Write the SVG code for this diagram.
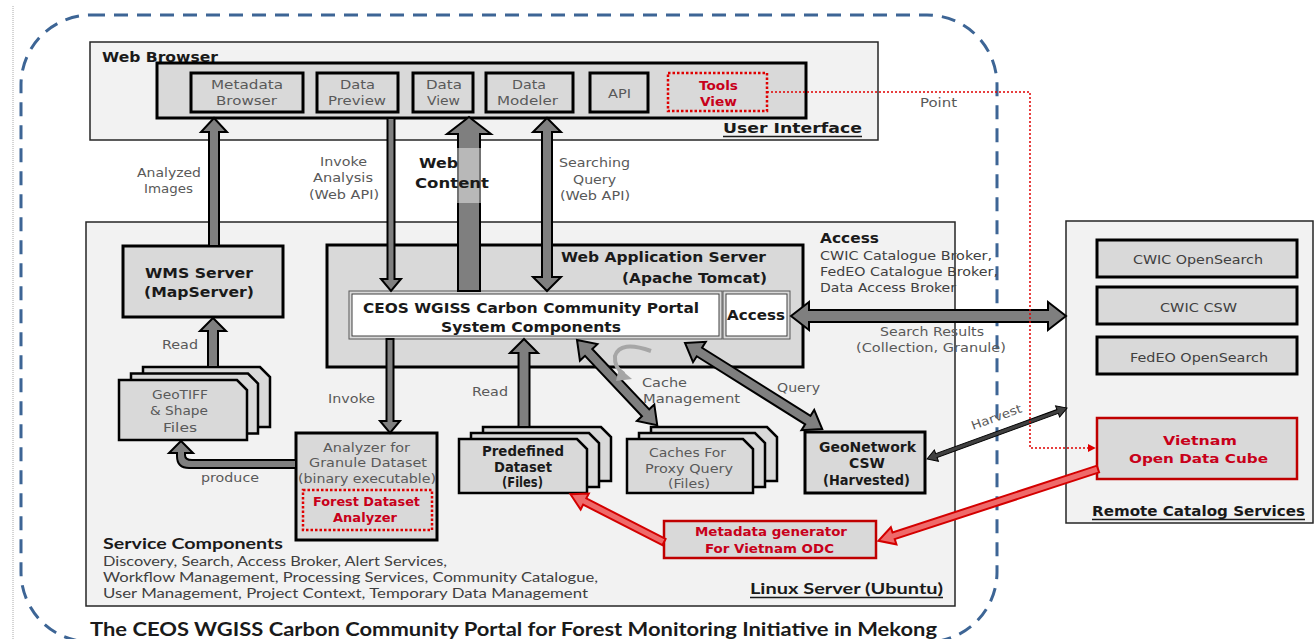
<svg xmlns="http://www.w3.org/2000/svg" width="1315" height="639" viewBox="0 0 1315 639">
<style>
text{font-family:"DejaVu Sans",Verdana,sans-serif}
.t{font-size:12px;fill:#595959}
.td{font-size:13px;fill:#404040}
.b{font-weight:bold;fill:#1a1a1a;font-size:14px}
.r{font-weight:bold;fill:#c8001a;font-size:12.5px}
.cal{font-family:Lato,"Liberation Sans",sans-serif}
.panel{fill:#f2f2f2;stroke:#262626;stroke-width:1.5}
.box{fill:#d9d9d9;stroke:#000;stroke-width:3}
.rbox{fill:#d9d9d9;stroke:#c00000;stroke-width:2.5}
.dot{fill:#d9d9d9;stroke:#e00000;stroke-width:2.5;stroke-dasharray:2.5 2}
.doc{fill:#d9d9d9;stroke:#000;stroke-width:2.5}
.arr{fill:#7f7f7f;stroke:#000;stroke-width:2}
.rarr{fill:#ef6a6a;stroke:#d40000;stroke-width:2}
.ul{stroke:#1a1a1a;stroke-width:1.5}
</style>
<defs>
<marker id="rhead" viewBox="0 0 10 10" refX="9" refY="5" markerWidth="8" markerHeight="8" orient="auto" markerUnits="userSpaceOnUse"><path d="M0,0 L10,5 L0,10 z" fill="#e00000"/></marker>
</defs>
<rect width="1315" height="639" fill="#fff"/>
<line x1="13" y1="6" x2="13" y2="639" stroke="#aaa" stroke-width="1" stroke-dasharray="1 1"/>
<rect x="21" y="15" width="976" height="627" rx="70" fill="none" stroke="#3d6595" stroke-width="3" stroke-dasharray="14 9"/>

<g id="web-browser">
<rect class="panel" x="90" y="42" width="788" height="98"/>
<text class="b" x="102" y="62" textLength="116" lengthAdjust="spacingAndGlyphs">Web Browser</text>
<rect x="157" y="63" width="649" height="55" fill="#d9d9d9" stroke="#000" stroke-width="3"/>
<text class="b" x="723" y="133" font-size="16" textLength="139" lengthAdjust="spacingAndGlyphs">User Interface</text>
<line class="ul" x1="723" y1="136.5" x2="862" y2="136.5"/>
</g>
<g id="metadata-browser"><rect class="box" x="191" y="73" width="112" height="39"/><text class="t" x="211" y="89" textLength="72" lengthAdjust="spacingAndGlyphs">Metadata</text><text class="t" x="216" y="105" textLength="61" lengthAdjust="spacingAndGlyphs">Browser</text></g>
<g id="data-preview"><rect class="box" x="317" y="73" width="81" height="39"/><text class="t" x="340" y="89" textLength="35" lengthAdjust="spacingAndGlyphs">Data</text><text class="t" x="328" y="105" textLength="58" lengthAdjust="spacingAndGlyphs">Preview</text></g>
<g id="data-view"><rect class="box" x="413" y="73" width="60" height="39"/><text class="t" x="426" y="89" textLength="36" lengthAdjust="spacingAndGlyphs">Data</text><text class="t" x="427" y="105" textLength="33" lengthAdjust="spacingAndGlyphs">View</text></g>
<g id="data-modeler"><rect class="box" x="486" y="73" width="87" height="39"/><text class="t" x="512" y="89" textLength="34" lengthAdjust="spacingAndGlyphs">Data</text><text class="t" x="497" y="105" textLength="61" lengthAdjust="spacingAndGlyphs">Modeler</text></g>
<g id="api"><rect class="box" x="590" y="73" width="58" height="39"/><text class="t" x="608" y="98" textLength="23" lengthAdjust="spacingAndGlyphs">API</text></g>
<g id="tools-view"><rect class="dot" x="668" y="73" width="99" height="38"/><text class="r" x="699" y="90" textLength="39" lengthAdjust="spacingAndGlyphs">Tools</text><text class="r" x="700" y="106" textLength="37" lengthAdjust="spacingAndGlyphs">View</text></g>

<g id="linux-server">
<rect class="panel" x="86" y="222" width="869" height="384"/>
<text class="cal" x="750" y="594" font-size="16" font-weight="bold" fill="#1a1a1a" textLength="193" lengthAdjust="spacingAndGlyphs">Linux Server (Ubuntu)</text>
<line class="ul" x1="750" y1="597.5" x2="943" y2="597.5"/>
</g>
<g id="service-components">
<text class="cal" x="103" y="549" font-size="15" font-weight="bold" fill="#1a1a1a" textLength="180" lengthAdjust="spacingAndGlyphs">Service Components</text>
<text class="cal" x="103" y="566" font-size="13.5" fill="#404040" textLength="344" lengthAdjust="spacingAndGlyphs">Discovery, Search, Access Broker, Alert Services,</text>
<text class="cal" x="103" y="582" font-size="13.5" fill="#404040" textLength="495" lengthAdjust="spacingAndGlyphs">Workflow Management, Processing Services, Community Catalogue,</text>
<text class="cal" x="103" y="598" font-size="13.5" fill="#404040" textLength="485" lengthAdjust="spacingAndGlyphs">User Management, Project Context, Temporary Data Management</text>
</g>
<g id="wms-server"><rect class="box" x="123" y="246" width="160" height="71"/><text class="b" x="145" y="278" font-size="15" fill="#262626" textLength="108" lengthAdjust="spacingAndGlyphs">WMS Server</text><text class="b" x="144" y="297" font-size="15" fill="#262626" textLength="110" lengthAdjust="spacingAndGlyphs">(MapServer)</text></g>
<g id="web-application-server"><rect class="box" x="327" y="245" width="476" height="122"/><text class="b" x="561" y="262" font-size="15" textLength="205" lengthAdjust="spacingAndGlyphs">Web Application Server</text><text class="b" x="622" y="283" font-size="15" textLength="145" lengthAdjust="spacingAndGlyphs">(Apache Tomcat)</text></g>
<g id="ceos-portal"><rect x="349" y="291" width="373" height="48" fill="#d9d9d9" stroke="#595959" stroke-width="1"/><rect x="352" y="294" width="367" height="42" fill="#fff" stroke="#404040" stroke-width="1"/><text class="b" x="363" y="313" font-size="15" textLength="336" lengthAdjust="spacingAndGlyphs">CEOS WGISS Carbon Community Portal</text><text class="b" x="441" y="332" font-size="15" textLength="180" lengthAdjust="spacingAndGlyphs">System Components</text></g>
<g id="access-box"><rect x="723" y="291" width="67" height="48" fill="#d9d9d9" stroke="#595959" stroke-width="1"/><rect x="726" y="294" width="61" height="42" fill="#fff" stroke="#404040" stroke-width="1"/><text class="b" x="727" y="320" font-size="14" textLength="58" lengthAdjust="spacingAndGlyphs">Access</text></g>
<g id="access-label"><text class="b" x="820" y="243" font-size="15" textLength="59" lengthAdjust="spacingAndGlyphs">Access</text><text class="td" x="820" y="260" textLength="172" lengthAdjust="spacingAndGlyphs">CWIC Catalogue Broker,</text><text class="td" x="820" y="276" textLength="178" lengthAdjust="spacingAndGlyphs">FedEO Catalogue Broker,</text><text class="td" x="820" y="292" textLength="136" lengthAdjust="spacingAndGlyphs">Data Access Broker</text></g>
<g id="geotiff-files">
<path class="doc" d="M143,367 H260 L270,377 V427 H143 Z"/>
<path class="doc" d="M131,373.5 H248 L258,383.5 V433.5 H131 Z"/>
<path class="doc" d="M119,380 H237 L247,390 V440 H119 Z"/>
<text class="t" x="152" y="399" textLength="56" lengthAdjust="spacingAndGlyphs">GeoTIFF</text><text class="t" x="150" y="415" textLength="58" lengthAdjust="spacingAndGlyphs">&amp; Shape</text><text class="t" x="163" y="432" textLength="34" lengthAdjust="spacingAndGlyphs">Files</text>
</g>
<g id="analyzer"><rect class="box" x="296" y="433" width="141" height="107"/><text class="t" x="323" y="452" textLength="87" lengthAdjust="spacingAndGlyphs">Analyzer for</text><text class="t" x="309" y="467" textLength="118" lengthAdjust="spacingAndGlyphs">Granule Dataset</text><text class="t" x="298" y="483" textLength="138" lengthAdjust="spacingAndGlyphs">(binary executable)</text>
<rect class="dot" x="303" y="490" width="129" height="40"/><text class="r" x="313" y="506" textLength="107" lengthAdjust="spacingAndGlyphs">Forest Dataset</text><text class="r" x="333" y="522" textLength="64" lengthAdjust="spacingAndGlyphs">Analyzer</text></g>
<g id="predefined-dataset">
<path class="doc" d="M483,427 H601 L611,437 V481 H483 Z"/>
<path class="doc" d="M471,433 H589 L599,443 V487 H471 Z"/>
<path class="doc" d="M459,439 H577 L587,449 V493 H459 Z"/>
<text class="b" x="482" y="456" font-size="12.5" fill="#262626" textLength="82" lengthAdjust="spacingAndGlyphs">Predefined</text><text class="b" x="494" y="472" font-size="12.5" fill="#262626" textLength="58" lengthAdjust="spacingAndGlyphs">Dataset</text><text class="b" x="502" y="487" font-size="12.5" fill="#262626" textLength="41" lengthAdjust="spacingAndGlyphs">(Files)</text>
</g>
<g id="caches">
<path class="doc" d="M651,427 H767 L777,437 V481 H651 Z"/>
<path class="doc" d="M639,433 H755 L765,443 V487 H639 Z"/>
<path class="doc" d="M627,439 H743 L753,449 V493 H627 Z"/>
<text class="t" x="649" y="457" textLength="77" lengthAdjust="spacingAndGlyphs">Caches For</text><text class="t" x="645" y="473" textLength="88" lengthAdjust="spacingAndGlyphs">Proxy Query</text><text class="t" x="668" y="488" textLength="42" lengthAdjust="spacingAndGlyphs">(Files)</text>
</g>
<g id="geonetwork"><rect class="box" x="805" y="432" width="120" height="61"/><text class="b" x="819" y="452" font-size="12.5" fill="#262626" textLength="97" lengthAdjust="spacingAndGlyphs">GeoNetwork</text><text class="b" x="849" y="468" font-size="12.5" fill="#262626" textLength="36" lengthAdjust="spacingAndGlyphs">CSW</text><text class="b" x="823" y="485" font-size="12.5" fill="#262626" textLength="87" lengthAdjust="spacingAndGlyphs">(Harvested)</text></g>
<g id="metadata-generator"><rect class="rbox" x="664" y="521" width="212" height="37"/><text class="r" x="695" y="536" textLength="152" lengthAdjust="spacingAndGlyphs">Metadata generator</text><text class="r" x="705" y="553" textLength="129" lengthAdjust="spacingAndGlyphs">For Vietnam ODC</text></g>

<g id="remote-catalog-services">
<rect class="panel" x="1066" y="221" width="247" height="302"/>
<text class="b" x="1092" y="516" font-size="15" textLength="213" lengthAdjust="spacingAndGlyphs">Remote Catalog Services</text>
<line class="ul" x1="1092" y1="519.5" x2="1305" y2="519.5"/>
</g>
<g id="cwic-opensearch"><rect class="box" x="1097" y="240" width="200" height="37"/><text class="td" x="1133" y="264" textLength="130" lengthAdjust="spacingAndGlyphs">CWIC OpenSearch</text></g>
<g id="cwic-csw"><rect class="box" x="1097" y="287" width="200" height="37"/><text class="td" x="1160" y="312" textLength="77" lengthAdjust="spacingAndGlyphs">CWIC CSW</text></g>
<g id="fedeo-opensearch"><rect class="box" x="1097" y="337" width="200" height="37"/><text class="td" x="1130" y="362" textLength="138" lengthAdjust="spacingAndGlyphs">FedEO OpenSearch</text></g>
<g id="vietnam-odc"><rect class="rbox" x="1097" y="418" width="200" height="61" stroke-width="3"/><text class="r" x="1163" y="445" font-size="15" textLength="74" lengthAdjust="spacingAndGlyphs">Vietnam</text><text class="r" x="1129" y="463" font-size="15" textLength="139" lengthAdjust="spacingAndGlyphs">Open Data Cube</text></g>

<g id="connectors">
<polygon class="arr" points="209,246 209,132 201,132 214,118 227,132 219,132 219,246"/>
<polygon class="arr" points="208,367 208,331 200,331 213,318 226,331 218,331 218,367"/>
<polygon class="arr" points="387.5,118 394.5,118 394.5,279 401,279 391,291 381,279 387.5,279"/>
<polygon class="arr" points="458,291 458,134 447,134 469,117 491,134 480,134 480,291"/>
<rect x="456" y="148" width="26" height="55" fill="#fff" opacity="0.45"/>
<polygon class="arr" points="547,118 561,132 552,132 552,277 561,277 547,291 533,277 542,277 542,132 533,132"/>
<polygon class="arr" points="386.5,339 393.5,339 393.5,421 400,421 390,433 380,421 386.5,421"/>
<polygon class="arr" points="518.5,427 518.5,353 510,353 524,339 538,353 529.5,353 529.5,427"/>
<polygon class="arr" points="791,316 809,302 809,310 1048,310 1048,302 1066,316 1048,330 1048,322 809,322 809,330"/>
<polygon class="arr" transform="translate(577,340) rotate(46.7)" points="0,0 17,-12 17,-5 100,-5 100,-12 117,0 100,12 100,5 17,5 17,12"/>
<polygon class="arr" transform="translate(685,343) rotate(32.1)" points="0,0 17,-12 17,-5 145,-5 145,-12 162,0 145,12 145,5 17,5 17,12"/>
<polygon transform="translate(927,459) rotate(-20)" points="0,0 10,-6 10,-2 139,-2 139,-6 149,0 139,6 139,2 10,2 10,6" fill="#404040" stroke="#000" stroke-width="1"/>
<path class="arr" d="M296,460 L192,460 Q185,460 185,455 L185,453 L193,453 L181,441 L169,453 L177,453 L177,456 Q177,468 189,468 L296,468 Z"/>
<path d="M651,351 Q620,340 615,356 Q614,368 624,374" fill="none" stroke="#a6a6a6" stroke-width="4"/>
<polygon points="619,368 632,379 616,381" fill="#a6a6a6"/>
<polygon class="rarr" transform="translate(1098,469) rotate(161.9)" points="0,-3.5 215,-3.5 215,-9 231,0 215,9 215,3.5 0,3.5"/>
<polygon class="rarr" transform="translate(664,542) rotate(-152.95)" points="0,-3.5 89,-3.5 89,-9 105,0 89,9 89,3.5 0,3.5"/>
<path d="M767,92 H1030 V448 H1095" fill="none" stroke="#e00000" stroke-width="1.5" stroke-dasharray="2 2" marker-end="url(#rhead)"/>
<text class="t" x="137" y="177" textLength="64" lengthAdjust="spacingAndGlyphs">Analyzed</text>
<text class="t" x="144" y="193" textLength="49" lengthAdjust="spacingAndGlyphs">Images</text>
<text class="t" x="320" y="166" textLength="47" lengthAdjust="spacingAndGlyphs">Invoke</text>
<text class="t" x="313" y="182" textLength="60" lengthAdjust="spacingAndGlyphs">Analysis</text>
<text class="t" x="309" y="199" textLength="70" lengthAdjust="spacingAndGlyphs">(Web API)</text>
<text class="b" x="419" y="168" font-size="15" textLength="39" lengthAdjust="spacingAndGlyphs">Web</text>
<text class="b" x="415" y="188" font-size="15" textLength="74" lengthAdjust="spacingAndGlyphs">Content</text>
<text class="t" x="559" y="167" textLength="71" lengthAdjust="spacingAndGlyphs">Searching</text>
<text class="t" x="573" y="184" textLength="43" lengthAdjust="spacingAndGlyphs">Query</text>
<text class="t" x="560" y="200" textLength="70" lengthAdjust="spacingAndGlyphs">(Web API)</text>
<text class="t" x="920" y="107" textLength="37" lengthAdjust="spacingAndGlyphs">Point</text>
<text class="t" x="880" y="336" textLength="104" lengthAdjust="spacingAndGlyphs">Search Results</text>
<text class="t" x="856" y="352" textLength="150" lengthAdjust="spacingAndGlyphs">(Collection, Granule)</text>
<text class="t" x="162" y="349" textLength="36" lengthAdjust="spacingAndGlyphs">Read</text>
<text class="t" x="328" y="403" textLength="47" lengthAdjust="spacingAndGlyphs">Invoke</text>
<text class="t" x="201" y="482" textLength="58" lengthAdjust="spacingAndGlyphs">produce</text>
<text class="t" x="472" y="396" textLength="36" lengthAdjust="spacingAndGlyphs">Read</text>
<text class="t" x="642" y="387" textLength="45" lengthAdjust="spacingAndGlyphs">Cache</text>
<text class="t" x="643" y="403" textLength="97" lengthAdjust="spacingAndGlyphs">Management</text>
<text class="t" x="777" y="392" textLength="43" lengthAdjust="spacingAndGlyphs">Query</text>
<text class="t" x="970" y="421" textLength="53" lengthAdjust="spacingAndGlyphs" transform="rotate(-20 997 417)">Harvest</text>
</g>
<text class="cal" x="90" y="636" font-size="18" font-weight="bold" fill="#1a1a1a" textLength="847" lengthAdjust="spacingAndGlyphs">The CEOS WGISS Carbon Community Portal for Forest Monitoring Initiative in Mekong</text>
</svg>
